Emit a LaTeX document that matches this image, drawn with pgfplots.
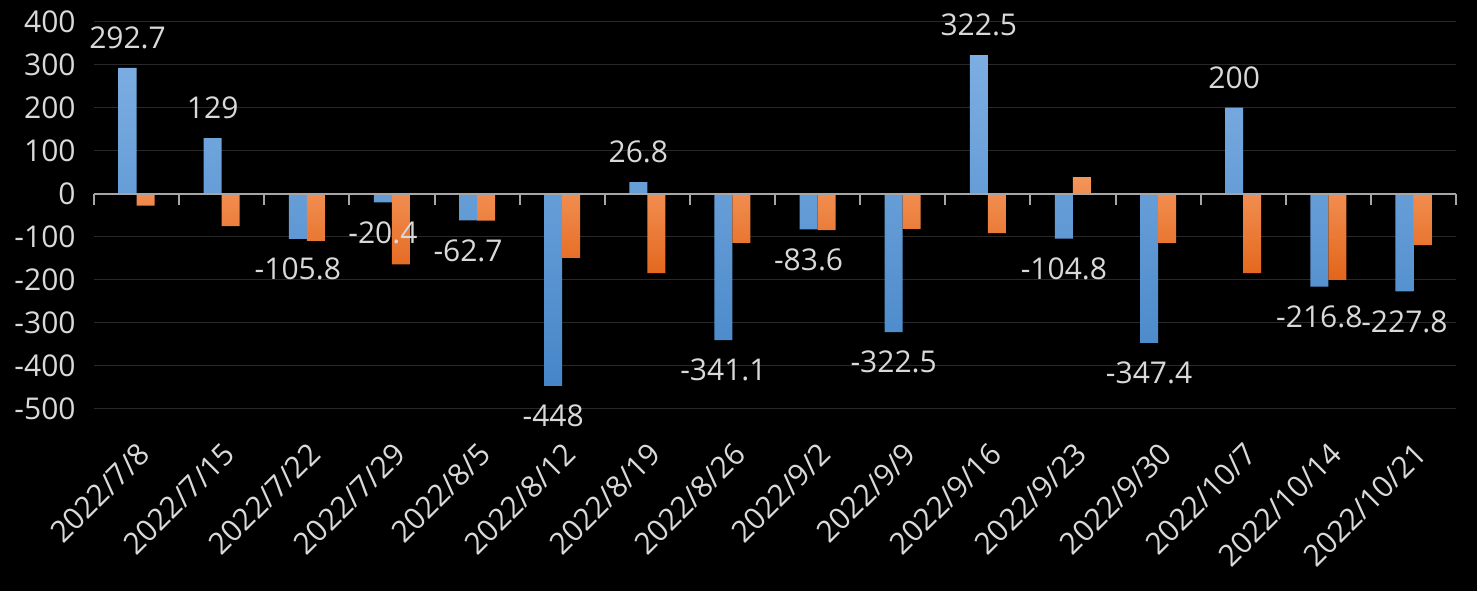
\documentclass[border=0pt]{standalone}
\usepackage{fontspec}
\setmainfont{Open Sans}
\usepackage{pgfplots}
\usepackage{pgfplotstable}
\pgfplotsset{compat=1.18}

\definecolor{lbl}{HTML}{D9D9D9}
\definecolor{gridc}{HTML}{282828}
\definecolor{zeroc}{HTML}{A6A6A6}
\definecolor{blueT}{HTML}{7DAEE2}
\definecolor{blueB}{HTML}{4686C8}
\definecolor{orT}{HTML}{F4955A}
\definecolor{orB}{HTML}{E2651A}

% weekly values, x = week index
\pgfplotstableread{
x a b
1 292.7 -28
2 129 -76
3 -105.8 -110
4 -20.4 -165
5 -62.7 -63
6 -448 -150
7 26.8 -185
8 -341.1 -115
9 -83.6 -85
10 -322.5 -82
11 322.5 -92
12 -104.8 38
13 -347.4 -115
14 200 -185
15 -216.8 -201
16 -227.8 -120
}\datatable

\newcommand{\lblfont}{\fontsize{15}{18}\selectfont}

\begin{document}
\begin{tikzpicture}
\fill[black] (-47pt,-91.35pt) rectangle (691.5pt,204.15pt);
\begin{axis}[
  at={(0,0)}, anchor=south west,
  scale only axis, width=681pt, height=193.3pt,
  xmin=0.5, xmax=16.5, ymin=-500, ymax=400,
  ytick={-500,-400,...,400},
  xtick={1,...,16},
  xticklabels={2022/7/8,2022/7/15,2022/7/22,2022/7/29,2022/8/5,2022/8/12,2022/8/19,2022/8/26,2022/9/2,2022/9/9,2022/9/16,2022/9/23,2022/9/30,2022/10/7,2022/10/14,2022/10/21},
  axis line style={draw=none},
  major tick length=0pt,
  ymajorgrids, grid style={gridc, line width=0.7pt},
  ybar=0pt, bar width=9pt,
  clip=false,
  tick label style={font=\lblfont, text=lbl},
  /pgf/number format/assume math mode=true,
  y tick label style={anchor=east, inner sep=0pt, xshift=-9pt},
  x tick label style={xshift=0pt, yshift=-16pt, rotate=45, anchor=north east, inner sep=0pt},
]
\addplot[draw=none, top color=blueT, bottom color=blueB,
  nodes near coords,
  nodes near coords style={font=\lblfont, text=lbl, inner sep=0pt, outer sep=9.5pt,
    /pgf/number format/fixed, /pgf/number format/precision=1}]
  table[x=x, y=a] {\datatable};
\addplot[draw=none, top color=orT, bottom color=orB]
  table[x=x, y=b] {\datatable};
\end{axis}
\begin{axis}[
  at={(0,0)}, anchor=south west,
  scale only axis, width=681pt, height=193.3pt,
  xmin=0.5, xmax=16.5, ymin=-500, ymax=400,
  axis x line=middle, axis y line=none,
  xtick={0.5,1.5,...,16.5}, xticklabels={},
  ytick=\empty,
  axis line style={-, zeroc, line width=1pt},
  x tick style={zeroc, line width=1pt},
  xtick align=outside, major tick length=5.5pt,
]
\end{axis}
\end{tikzpicture}
\end{document}
